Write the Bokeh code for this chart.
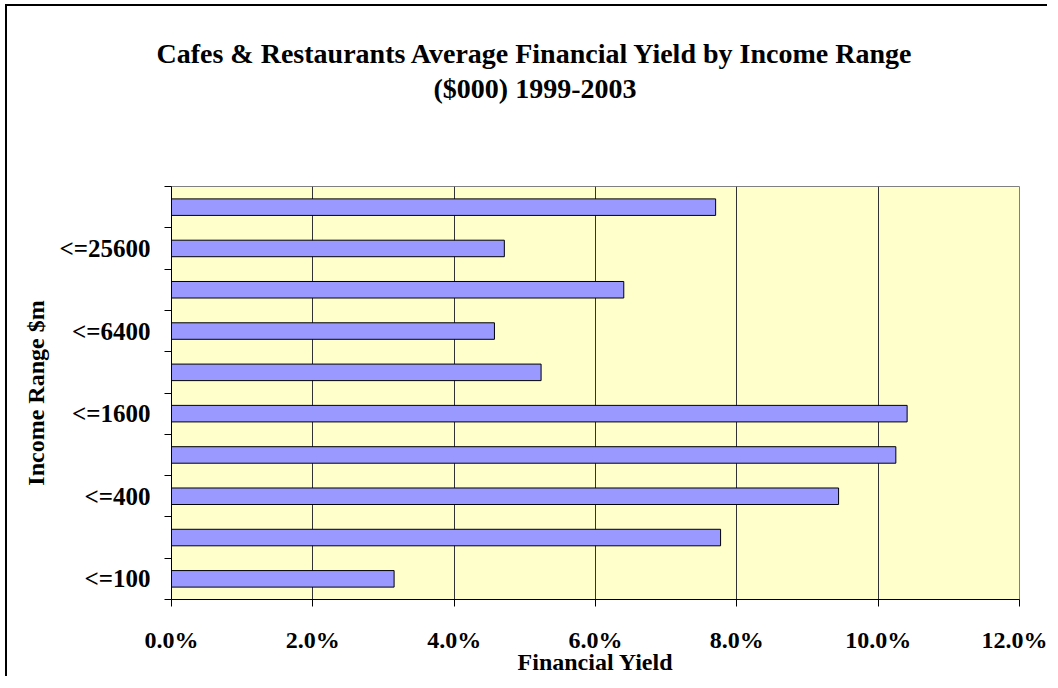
from bokeh.plotting import figure
from bokeh.models import (FixedTicker, NumeralTickFormatter, Title, Range1d,
                          ColumnDataSource)
from bokeh.embed import file_html
from bokeh.resources import INLINE

# ---- data ----
categories = ["<=100", "<=200", "<=400", "<=800", "<=1600",
              "<=3200", "<=6400", "<=12800", "<=25600", ">25600"]
yield_pct = [3.15, 7.77, 9.44, 10.25, 10.41, 5.23, 4.57, 6.40, 4.71, 7.70]
shown_labels = ["<=100", "<=400", "<=1600", "<=6400", "<=25600"]
x_ticks = [0.0, 0.02, 0.04, 0.06, 0.08, 0.10, 0.12]

title_line1 = "Cafes & Restaurants Average Financial Yield by Income Range"
title_line2 = "($000) 1999-2003"

FONT = "Liberation Serif"

ypos = list(range(len(categories)))
src = ColumnDataSource(dict(y=ypos, v=[x / 100 for x in yield_pct], cat=categories))

p = figure(width=1042, height=672, output_backend="svg", toolbar_location=None,
           x_range=Range1d(0, 0.12), y_range=Range1d(-0.5, len(categories) - 0.5),
           min_border_left=164, min_border_right=30,
           min_border_top=180, min_border_bottom=79)
p.background_fill_color = "#FFFFCC"
p.border_fill_color = "white"
p.outline_line_color = "#808080"
p.outline_line_width = 1

p.hbar(y="y", right="v", height=0.4, left=0, source=src,
       fill_color="#9999FF", line_color="black", line_width=1)

# titles: spacer closest to the plot, then line 2, then line 1
spacer = Title(text=" ", text_font_size="10px", standoff=70)
t2 = Title(text=title_line2, align="left", offset=262, text_font=FONT,
           text_font_size="28px", text_font_style="bold", text_color="black",
           standoff=0)
t1 = Title(text=title_line1, align="left", offset=-15, text_font=FONT,
           text_font_size="28px", text_font_style="bold", text_color="black",
           standoff=4)
p.add_layout(spacer, "above")
p.add_layout(t2, "above")
p.add_layout(t1, "above")

# x axis
xa = p.xaxis[0]
xa.ticker = FixedTicker(ticks=x_ticks)
xa.formatter = NumeralTickFormatter(format="0.0%")
xa.axis_line_color = "black"
xa.major_tick_line_color = "black"
xa.major_tick_out = 7
xa.major_tick_in = 0
xa.minor_tick_line_color = None
xa.major_label_text_font = FONT
xa.major_label_text_font_size = "24px"
xa.major_label_text_font_style = "bold"
xa.major_label_text_color = "black"
xa.major_label_standoff = 20
xa.axis_label = "Financial Yield"
xa.axis_label_text_font = FONT
xa.axis_label_text_font_size = "24px"
xa.axis_label_text_font_style = "bold"
xa.axis_label_text_color = "black"
xa.axis_label_standoff = -7

# y axis: labels at every other category, ticks at category boundaries
ya = p.yaxis[0]
label_pos = [categories.index(c) for c in shown_labels]
boundaries = [i - 0.5 for i in range(len(categories) + 1)]
ya.ticker = FixedTicker(ticks=label_pos, minor_ticks=boundaries)
ya.major_label_overrides = {i: categories[i] for i in label_pos}
ya.axis_line_color = "black"
ya.major_tick_line_color = None
ya.major_tick_out = 0
ya.major_tick_in = 0
ya.minor_tick_line_color = "black"
ya.minor_tick_out = 7
ya.minor_tick_in = 0
ya.major_label_text_font = FONT
ya.major_label_text_font_size = "25px"
ya.major_label_text_font_style = "bold"
ya.major_label_text_color = "black"
ya.major_label_standoff = 14
ya.axis_label = "Income Range $m"
ya.axis_label_text_font = FONT
ya.axis_label_text_font_size = "24px"
ya.axis_label_text_font_style = "bold"
ya.axis_label_text_color = "black"
ya.axis_label_standoff = 8

p.ygrid.grid_line_color = None
p.xgrid.ticker = FixedTicker(ticks=x_ticks)
p.xgrid.grid_line_color = "#333333"
p.xgrid.grid_line_width = 1

p.styles = {"border-left": "2px solid black", "border-top": "2px solid black",
            "box-sizing": "border-box", "margin-left": "5px", "margin-top": "4px"}

open("out.html", "w").write(file_html(p, INLINE))
